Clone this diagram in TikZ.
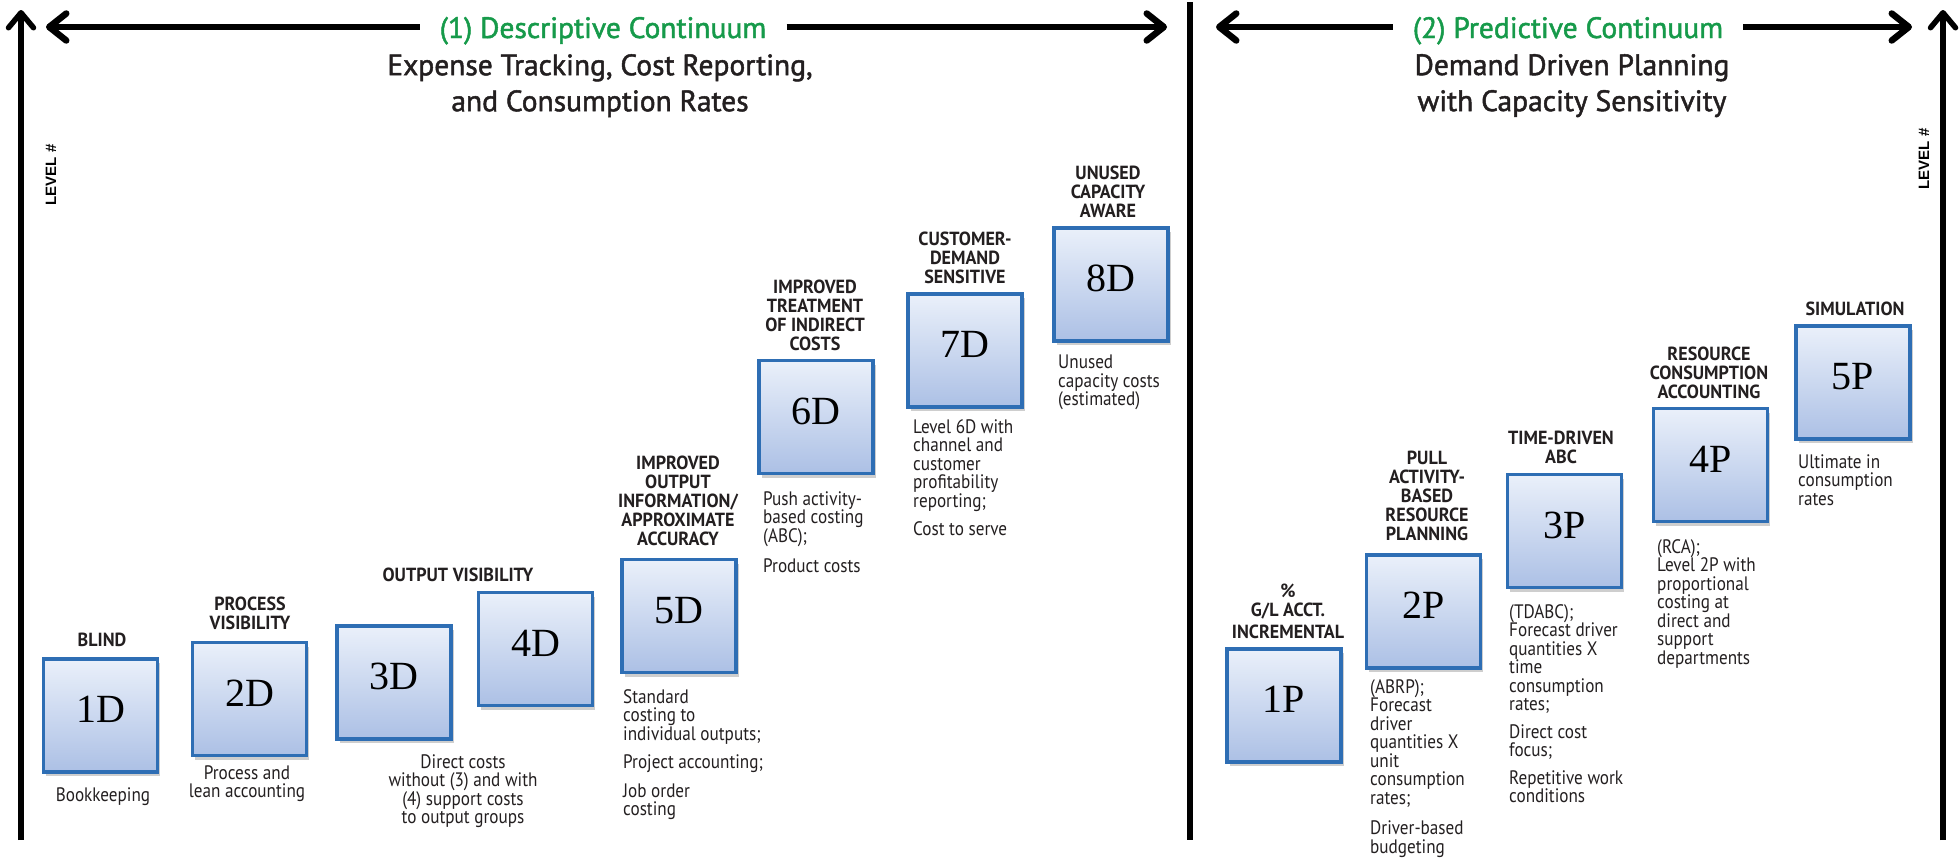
\documentclass[tikz,border=0pt]{standalone}
\usepackage{fontspec}
\setmainfont{PT Sans}
\newfontfamily\condfont[FakeStretch=0.88]{PT Sans}
\newfontfamily\labfont[FakeStretch=0.95]{PT Sans}
\newfontfamily\headfont[FakeBold=1.6]{PT Sans}
\newfontfamily\numfont{Liberation Serif}
\newfontfamily\axisfont{Liberation Sans}
\usetikzlibrary{arrows.meta,shadows}

\definecolor{boxtop}{RGB}{234,240,250}
\definecolor{boxbot}{RGB}{172,192,229}
\definecolor{boxedge}{RGB}{46,110,180}
\definecolor{titlegreen}{RGB}{22,154,74}
\definecolor{ink}{RGB}{35,31,32}

\begin{document}
\begin{tikzpicture}[x=1pt,y=-1pt,
  lvlbox/.style={draw=boxedge, line width=3.5pt, top color=boxtop, bottom color=boxbot,
    minimum width=114pt, minimum height=113pt, inner sep=0pt, text=black,
    font=\numfont\fontsize{40}{40}\selectfont, text depth=12pt,
    drop shadow={shadow xshift=2.5pt, shadow yshift=-4pt, opacity=0.35, fill=black!55}},
  lab/.style={font=\labfont\bfseries\fontsize{19}{18.8}\selectfont, text=ink,
    align=center, inner sep=0pt, anchor=south},
  desc/.style={font=\condfont\fontsize{19.5}{18.5}\selectfont, text=ink,
    align=left, inner sep=0pt, anchor=north west},
  descc/.style={desc, align=center, anchor=north},
  ttl/.style={font=\headfont\fontsize{29.5}{30}\selectfont, text=titlegreen, inner xsep=20pt, inner ysep=0pt, anchor=base},
  sub/.style={font=\headfont\fontsize{29.5}{36}\selectfont, text=ink, align=center, inner sep=0pt, anchor=north},
  harrow/.style={line width=6.5pt, -{Straight Barb[length=17pt,width=27pt,round]}},
  varrow/.style={line width=5.5pt, -{Straight Barb[length=15pt,width=25pt,round]}},
  levtxt/.style={font=\axisfont\bfseries\fontsize{15}{15}\selectfont, rotate=90, inner sep=0pt}
]
\useasboundingbox (0,0) rectangle (1959,862);

% ---------- axes and divider ----------
\coordinate (ax1b) at (21,840);  \coordinate (ax1t) at (21,10);
\coordinate (ax2b) at (1943,840); \coordinate (ax2t) at (1943,10);
\coordinate (divt) at (1190,2);  \coordinate (divb) at (1190,840);
\draw[varrow] (ax1b) -- (ax1t);
\draw[varrow] (ax2b) -- (ax2t);
\draw[line width=6.5pt] (divt) -- (divb);
\node[levtxt] (lev1) at (51,175) {LEVEL \#};
\node[levtxt] (lev2) at (1924,159) {LEVEL \#};

% ---------- headers ----------
\node[ttl] (t1) at (603,38) {(1) Descriptive Continuum};
\node[sub] (s1) at (600,54) {Expense Tracking, Cost Reporting,\\and Consumption Rates};
\node[ttl] (t2) at (1568,38) {(2) Predictive Continuum};
\node[sub] (s2) at (1572,54) {Demand Driven Planning\\with Capacity Sensitivity};

\coordinate (l1) at (46,27);   \coordinate (r1) at (1167,27);
\coordinate (l2) at (1216,27); \coordinate (r2) at (1912,27);
\draw[harrow] (t1.west |- l1) -- (l1);
\draw[harrow] (t1.east |- r1) -- (r1);
\draw[harrow] (t2.west |- l2) -- (l2);
\draw[harrow] (t2.east |- r2) -- (r2);

% ---------- descriptive levels ----------
\node[lvlbox] (d1) at (100.5,715.5) {1D};
\node[lvlbox] (d2) at (249.5,699) {2D};
\node[lvlbox] (d3) at (394,682.5) {3D};
\node[lvlbox] (d4) at (535.5,649) {4D};
\node[lvlbox] (d5) at (679,616) {5D};
\node[lvlbox] (d6) at (816,417) {6D};
\node[lvlbox] (d7) at (965,350.5) {7D};
\node[lvlbox] (d8) at (1111,284.5) {8D};

\node[lab] (ld1) at (102,646.5) {BLIND};
\node[lab] (ld2) at (250,629.5) {PROCESS\\VISIBILITY};
\node[lab] (ld34) at (458,581.5) {OUTPUT VISIBILITY};
\node[lab] (ld5) at (678,545.5) {IMPROVED\\OUTPUT\\INFORMATION/\\APPROXIMATE\\ACCURACY};
\node[lab] (ld6) at (815,350.5) {IMPROVED\\TREATMENT\\OF INDIRECT\\COSTS};
\node[lab] (ld7) at (965,283.5) {CUSTOMER-\\DEMAND\\SENSITIVE};
\node[lab] (ld8) at (1108,217.5) {UNUSED\\CAPACITY\\AWARE};

\node[descc] (xd1) at (103,787) {Bookkeeping};
\node[descc] (xd2) at (247,765) {Process and\\lean accounting};
\node[descc] (xd34) at (463,754) {Direct costs\\without (3) and with\\(4) support costs\\to output groups};
\node[desc] (xd5) at (623,689) {Standard\\costing to\\individual outputs;\\[10pt]Project accounting;\\[10pt]Job order\\costing};
\node[desc] (xd6) at (763,491) {Push activity-\\based costing\\(ABC);\\[12pt]Product costs};
\node[desc] (xd7) at (913,419) {Level 6D with\\channel and\\customer\\profitability\\reporting;\\[10pt]Cost to serve};
\node[desc] (xd8) at (1058,355) {Unused\\capacity costs\\(estimated)};

% ---------- predictive levels ----------
\node[lvlbox] (p1) at (1284,705.5) {1P};
\node[lvlbox] (p2) at (1423.5,611.5) {2P};
\node[lvlbox] (p3) at (1564.5,531) {3P};
\node[lvlbox] (p4) at (1710.5,465) {4P};
\node[lvlbox] (p5) at (1853,382.5) {5P};

\node[lab] (lp1) at (1288,638.5) {\%\\G/L ACCT.\\[3pt]INCREMENTAL};
\node[lab] (lp2) at (1427,540.5) {PULL\\ACTIVITY-\\BASED\\RESOURCE\\PLANNING};
\node[lab] (lp3) at (1561,463.5) {TIME-DRIVEN\\ABC};
\node[lab] (lp4) at (1709,398.5) {RESOURCE\\CONSUMPTION\\ACCOUNTING};
\node[lab] (lp5) at (1855,315.5) {SIMULATION};

\node[desc] (xp2) at (1370,679) {(ABRP);\\Forecast\\driver\\quantities X\\unit\\consumption\\rates;\\[12pt]Driver-based\\budgeting};
\node[desc] (xp3) at (1509,604) {(TDABC);\\Forecast driver\\quantities X\\time\\consumption\\rates;\\[9pt]Direct cost\\focus;\\[9pt]Repetitive work\\conditions};
\node[desc] (xp4) at (1657,539) {(RCA);\\Level 2P with\\proportional\\costing at\\direct and\\support\\departments};
\node[desc] (xp5) at (1798,454) {Ultimate in\\consumption\\rates};
\end{tikzpicture}
\end{document}
